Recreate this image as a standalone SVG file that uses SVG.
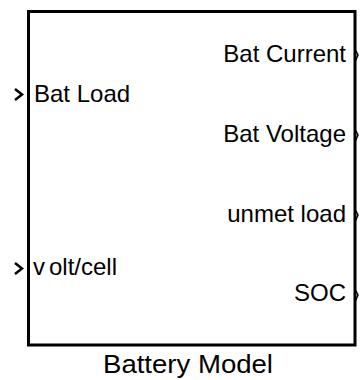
<svg xmlns="http://www.w3.org/2000/svg" width="360" height="380" viewBox="0 0 360 380">
<style>
text{font-family:"Liberation Sans",Arial,sans-serif;font-size:24px;fill:#000}
.r{text-anchor:end}
.port{fill:none;stroke:#000;stroke-width:2.5;stroke-linejoin:miter}
.oport{fill:none;stroke:#000;stroke-width:1.5}
</style>
<rect width="360" height="380" fill="#fff"/>
<g id="block">
<rect x="28.5" y="11.5" width="326.5" height="333.5" fill="none" stroke="#000" stroke-width="3"/>
<text x="188" y="373" text-anchor="middle" textLength="170" lengthAdjust="spacingAndGlyphs" style="font-size:25px">Battery Model</text>
</g>
<g id="in1">
<polyline class="port" points="15,89 22,94.5 15,100"/>
<text x="34" y="101.5">Bat Load</text>
</g>
<g id="in2">
<polyline class="port" points="15,263 22,268.5 15,274"/>
<text x="33" y="275">v<tspan dx="4">olt/cell</tspan></text>
</g>
<g id="out1">
<polyline class="oport" points="355,49 358,55 355,62"/>
<text class="r" x="346" y="61.5">Bat Current</text>
</g>
<g id="out2">
<polyline class="oport" points="355,129 358,135 355,142"/>
<text class="r" x="346" y="141.5">Bat Voltage</text>
</g>
<g id="out3">
<polyline class="oport" points="355,209 358,215 355,222"/>
<text class="r" x="346" y="221.5">unmet load</text>
</g>
<g id="out4">
<polyline class="oport" points="355,289 358,295 355,302"/>
<text class="r" x="346" y="300.5">SOC</text>
</g>
<g id="connectors"></g>
</svg>
